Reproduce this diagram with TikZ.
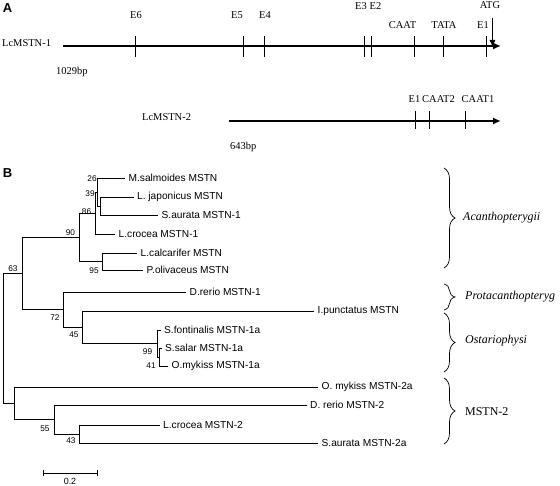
\documentclass[tikz,border=0pt]{standalone}
\usepackage{fontspec}
\setmainfont{Liberation Serif}
\newfontfamily\arialfont{Liberation Sans}
\usetikzlibrary{arrows.meta,decorations.pathreplacing}
\begin{document}
\begin{tikzpicture}[x=1bp,y=-1bp,
  gene/.style={line width=2bp,-{Latex[length=8bp,width=7bp]}},
  genetick/.style={line width=0.8bp},
  lbl/.style={font=\fontsize{10.5}{12}\selectfont,inner sep=0pt},
  branch/.style={line width=0.8bp},
  leaf/.style={anchor=west,inner xsep=3.5bp,inner ysep=0pt,font=\arialfont\fontsize{10.2}{11}\selectfont},
  boot/.style={inner sep=0pt,font=\arialfont\fontsize{8.3}{9}\selectfont},
  grp/.style={anchor=west,inner sep=0pt,font=\fontsize{12}{14}\selectfont},
  brc/.style={decorate,decoration={brace,amplitude=11bp},line width=0.7bp},
  panel/.style={inner sep=0pt,font=\arialfont\bfseries\fontsize{13}{14}\selectfont}]
\useasboundingbox (0,0) rectangle (560,486);

% ---------- Panel A ----------
\node[panel] (pA) at (7.5,8.5) {A};

\coordinate (g1s) at (63,46);
\coordinate (g1e) at (501,46);
\draw[gene] (g1s) -- (g1e);
\foreach \x in {135,243,264,364,371,414,443,486}
  \draw[genetick] (\x,36) -- (\x,57);
\node[lbl,anchor=west] (g1) at (2,43) {LcMSTN-1};
\node[lbl,anchor=west] (bp1) at (56,72) {1029bp};
\node[lbl] (e6) at (136,15) {E6};
\node[lbl] (e5) at (237,15) {E5};
\node[lbl] (e4) at (265,15) {E4};
\node[lbl] (e3) at (361,6) {E3};
\node[lbl] (e2) at (375.5,6) {E2};
\node[lbl] (caat) at (402.5,25) {CAAT};
\node[lbl] (tata) at (444,25) {TATA};
\node[lbl] (e1) at (483,25) {E1};
\node[lbl] (atg) at (490,5) {ATG};
\coordinate (atgs) at (492.5,18);
\coordinate (atge) at (492.5,47);
\draw[line width=0.8bp,-{Latex[length=7bp,width=6bp]}] (atgs) -- (atge);

\coordinate (g2s) at (229,121);
\coordinate (g2e) at (501,121);
\draw[gene] (g2s) -- (g2e);
\foreach \x in {415,429,465}
  \draw[genetick] (\x,111) -- (\x,129);
\node[lbl,anchor=west] (g2) at (142,117) {LcMSTN-2};
\node[lbl,anchor=west] (bp2) at (230,147) {643bp};
\node[lbl] (f1) at (414.5,99) {E1};
\node[lbl] (caat2) at (438.5,99) {CAAT2};
\node[lbl] (caat1) at (478,99) {CAAT1};

% ---------- Panel B ----------
\node[panel] (pB) at (7.5,173.5) {B};

% internal nodes
\coordinate (n1) at (100,206);
\coordinate (n2) at (97.5,192);
\coordinate (n3) at (95,213);
\coordinate (n95) at (102,261.5);
\coordinate (n90) at (79,237);
\coordinate (n41) at (159,357);
\coordinate (n99) at (157,343.5);
\coordinate (n45) at (82,327);
\coordinate (n72) at (63,309.5);
\coordinate (n63) at (22,273);
\coordinate (n43) at (79,434);
\coordinate (n55) at (54,419.5);
\coordinate (nb) at (14,403);
\coordinate (root) at (3,338);

% leaves
\node[leaf] (l1) at (125,178) {M.salmoides MSTN};
\node[leaf] (l2) at (133.5,197) {L. japonicus MSTN};
\node[leaf] (l3) at (158,215) {S.aurata MSTN-1};
\node[leaf] (l4) at (115,234) {L.crocea MSTN-1};
\node[leaf] (l5) at (137,253) {L.calcarifer MSTN};
\node[leaf] (l6) at (143,270) {P.olivaceus MSTN};
\node[leaf] (l7) at (186,292) {D.rerio MSTN-1};
\node[leaf] (l8) at (314,311) {I.punctatus MSTN};
\node[leaf] (l9) at (160.5,330) {S.fontinalis MSTN-1a};
\node[leaf] (l10) at (161.5,348) {S.salar MSTN-1a};
\node[leaf] (l11) at (168,366) {O.mykiss MSTN-1a};
\node[leaf] (l12) at (318,387) {O. mykiss MSTN-2a};
\node[leaf] (l13) at (306.5,405) {D. rerio MSTN-2};
\node[leaf] (l14) at (159.5,425) {L.crocea MSTN-2};
\node[leaf] (l15) at (318,443) {S.aurata MSTN-2a};

% branches
\draw[branch] (n1) |- (l2.west);
\draw[branch] (n1) |- (l3.west);
\draw[branch] (n2) |- (l1.west);
\draw[branch] (n2) |- (n1);
\draw[branch] (n3) |- (n2);
\draw[branch] (n3) |- (l4.west);
\draw[branch] (n95) |- (l5.west);
\draw[branch] (n95) |- (l6.west);
\draw[branch] (n90) |- (n3);
\draw[branch] (n90) |- (n95);
\draw[branch] (n41) |- (l10.west);
\draw[branch] (n41) |- (l11.west);
\draw[branch] (n99) |- (l9.west);
\draw[branch] (n99) |- (n41);
\draw[branch] (n45) |- (l8.west);
\draw[branch] (n45) |- (n99);
\draw[branch] (n72) |- (l7.west);
\draw[branch] (n72) |- (n45);
\draw[branch] (n63) |- (n90);
\draw[branch] (n63) |- (n72);
\draw[branch] (n43) |- (l14.west);
\draw[branch] (n43) |- (l15.west);
\draw[branch] (n55) |- (l13.west);
\draw[branch] (n55) |- (n43);
\draw[branch] (nb) |- (l12.west);
\draw[branch] (nb) |- (n55);
\draw[branch] (root) |- (n63);
\draw[branch] (root) |- (nb);

% bootstrap values
\node[boot] (b26) at (92,179) {26};
\node[boot] (b39) at (90,194) {39};
\node[boot] (b86) at (86.5,211.5) {86};
\node[boot] (b90) at (70.5,233) {90};
\node[boot] (b95) at (94,271) {95};
\node[boot] (b63) at (13,268.5) {63};
\node[boot] (b72) at (55,317.5) {72};
\node[boot] (b45) at (74,334.5) {45};
\node[boot] (b99) at (147.5,351.5) {99};
\node[boot] (b41) at (151,366) {41};
\node[boot] (b55) at (45,429) {55};
\node[boot] (b43) at (71,441) {43};

% group braces
\coordinate (ba1) at (444,168);
\coordinate (ba2) at (444,268);
\draw[brc] (ba1) -- (ba2);
\node[grp,font=\itshape\fontsize{12}{14}\selectfont] (ga) at (463,218) {Acanthopterygii};
\coordinate (bp1a) at (444,284);
\coordinate (bp2a) at (444,310);
\draw[brc] (bp1a) -- (bp2a);
\node[grp,font=\itshape\fontsize{12}{14}\selectfont] (gp) at (465,297) {Protacanthopteryg};
\coordinate (bo1) at (444,313);
\coordinate (bo2) at (444,372);
\draw[brc] (bo1) -- (bo2);
\node[grp,font=\itshape\fontsize{12}{14}\selectfont] (go) at (465,341) {Ostariophysi};
\coordinate (bm1) at (444,378);
\coordinate (bm2) at (444,444);
\draw[brc] (bm1) -- (bm2);
\node[grp] (gm) at (465,412) {MSTN-2};

% scale bar
\coordinate (sb1) at (43,473);
\coordinate (sb2) at (97,473);
\draw[branch] (sb1) -- (sb2);
\draw[branch] ([yshift=-3bp]sb1) -- ([yshift=3bp]sb1);
\draw[branch] ([yshift=-3bp]sb2) -- ([yshift=3bp]sb2);
\node[boot,font=\arialfont\fontsize{9}{10}\selectfont] (sbl) at (70,481.5) {0.2};
\end{tikzpicture}
\end{document}
